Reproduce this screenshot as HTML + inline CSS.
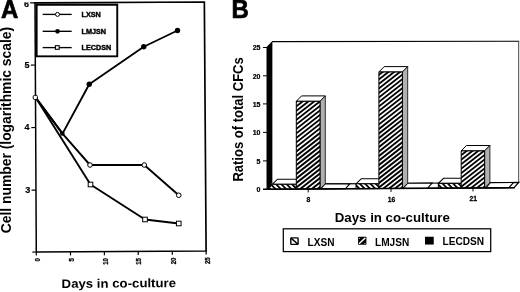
<!DOCTYPE html>
<html>
<head>
<meta charset="utf-8">
<title>Figure</title>
<style>
html,body{margin:0;padding:0;background:#fff;}
body{width:520px;height:292px;overflow:hidden;font-family:"Liberation Sans",sans-serif;}
svg{display:block;filter:grayscale(1) blur(0.35px);}
text{font-family:"Liberation Sans",sans-serif;font-weight:bold;fill:#000;}
</style>
</head>
<body>
<svg width="520" height="292" viewBox="0 0 520 292">

<rect x="0" y="0" width="520" height="292" fill="#fff"/>

<!-- ================= PANEL A ================= -->
<g id="panelA">
  <text transform="translate(0.9,17.8) scale(0.96,1)" font-size="25" stroke="#000" stroke-width="0.7" stroke-linejoin="round">A</text>
  <!-- frame -->
  <polyline points="35,2.8 204.35,2 206.1,251 36.3,252" fill="none" stroke="#000" stroke-width="1.7" stroke-linejoin="miter"/>
  <line x1="35" y1="2" x2="36.3" y2="252.8" stroke="#000" stroke-width="1.5"/>
  <!-- y ticks -->
  <g stroke="#000" stroke-width="1.2">
    <line x1="30.2" y1="2.9" x2="35" y2="2.8"/>
    <line x1="30.9" y1="65.1" x2="35.3" y2="65"/>
    <line x1="31.3" y1="127.6" x2="35.6" y2="127.5"/>
    <line x1="31.6" y1="190.2" x2="36" y2="190.1"/>
    <line x1="32.3" y1="252.1" x2="36.3" y2="252"/>
  </g>
  <clipPath id="c6"><rect x="20" y="2.2" width="12" height="10"/></clipPath>
  <g font-size="9" text-anchor="end" stroke="#000" stroke-width="0.2">
    <g clip-path="url(#c6)"><text transform="translate(28.9,6.7) scale(1,1.08)">6</text></g>
    <text transform="translate(29.4,67.7) scale(1,1.08)">5</text>
    <text transform="translate(29.5,130.1) scale(1,1.0)">4</text>
    <text transform="translate(30.3,193.4) scale(1,1.08)">3</text>
  </g>
  <!-- x ticks -->
  <g stroke="#000" stroke-width="1.2">
    <line x1="36.3" y1="252" x2="36.3" y2="255.6"/>
    <line x1="70.5" y1="251.8" x2="70.5" y2="255.4"/>
    <line x1="104.4" y1="251.6" x2="104.4" y2="255.2"/>
    <line x1="138.2" y1="251.4" x2="138.2" y2="255"/>
    <line x1="172.3" y1="251.2" x2="172.3" y2="254.8"/>
    <line x1="206.1" y1="251" x2="206.1" y2="254.6"/>
  </g>
  <g font-size="7.8" text-anchor="end" stroke="#000" stroke-width="0.3">
    <text transform="translate(39.7,258) scale(1,0.78) rotate(-90)">0</text>
    <text transform="translate(73.8,258) scale(1,0.78) rotate(-90)">5</text>
    <text transform="translate(108.0,258) scale(1,0.78) rotate(-90)">10</text>
    <text transform="translate(141.4,258) scale(1,0.78) rotate(-90)">15</text>
    <text transform="translate(175.5,257.6) scale(1,0.78) rotate(-90)">20</text>
    <text transform="translate(209.5,257.3) scale(1,0.78) rotate(-90)">25</text>
  </g>
  <!-- axis titles -->
  <text transform="translate(10.9,233.3) scale(1,0.964) rotate(-90)" font-size="14.4">Cell number (logarithmic scale)</text>
  <text transform="translate(61.6,287.9) rotate(-0.4) scale(1,0.93)" font-size="13.22">Days in co-culture</text>

  <!-- data lines -->
  <g fill="none" stroke="#000" stroke-width="1.9" stroke-linejoin="round" stroke-linecap="round">
    <polyline points="35.5,97.25 62.5,133.6 89.25,84.25 143.75,46.75 177.5,30.5"/>
    <polyline points="35.5,97.25 62.5,133.6 90,165 144.25,165 178.75,195.25"/>
    <polyline points="35.5,97.25 90.5,184.5 145,219.5 178.75,223.5"/>
  </g>
  <!-- markers -->
  <g fill="#000" stroke="none">
    <circle cx="62.3" cy="133.5" r="2.3"/>
    <circle cx="89.25" cy="84.25" r="2.7"/>
    <circle cx="143.75" cy="46.75" r="2.7"/>
    <circle cx="177.5" cy="30.5" r="2.7"/>
  </g>
  <g fill="#fff" stroke="#000" stroke-width="1">
    <circle cx="90" cy="165" r="2.3"/>
    <circle cx="144.25" cy="165" r="2.3"/>
    <circle cx="178.75" cy="195.25" r="2.3"/>
    <rect x="88.2" y="182.2" width="4.6" height="4.6"/>
    <rect x="142.7" y="217.2" width="4.6" height="4.6"/>
    <rect x="176.45" y="221.2" width="4.6" height="4.6"/>
    <rect x="33.2" y="95.3" width="4.2" height="4.2" rx="1.3"/>
  </g>

  <!-- legend -->
  <rect x="35.5" y="3.65" width="82.7" height="53.6" fill="#000"/>
  <rect x="37.6" y="5.75" width="78.7" height="49.65" fill="#fff"/>
  <g stroke="#000" stroke-width="1.35">
    <line x1="42.7" y1="14.4" x2="71.7" y2="14.4"/>
    <line x1="42.7" y1="31.3" x2="71.7" y2="31.3"/>
    <line x1="42.7" y1="47.6" x2="71.7" y2="47.6"/>
  </g>
  <circle cx="57.5" cy="14.4" r="2.0" fill="#fff" stroke="#000" stroke-width="1"/>
  <circle cx="57.5" cy="31.3" r="2.35" fill="#000"/>
  <rect x="55.4" y="45.7" width="3.8" height="3.6" fill="#fff" stroke="#000" stroke-width="1.1"/>
  <g font-size="7.25" stroke="#000" stroke-width="0.4">
    <text x="81.5" y="17.3">LXSN</text>
    <text x="81.5" y="34.0">LMJSN</text>
    <text x="81.5" y="50.3">LECDSN</text>
  </g>
</g>

<!-- ================= PANEL B ================= -->
<g id="panelB">
  <text transform="translate(231.5,17.6) scale(0.96,1)" font-size="25" stroke="#000" stroke-width="0.7" stroke-linejoin="round">B</text>
  <!-- back wall + floor -->
  <polygon points="272,41.6 518.7,41.2 518.7,182.45 272,184.3" fill="#fff" stroke="none"/>
  <line x1="272" y1="41.6" x2="519.2" y2="41.2" stroke="#000" stroke-width="1.1"/>
  <line x1="518.7" y1="41.2" x2="518.7" y2="182.45" stroke="#444" stroke-width="1"/>
  <polygon points="267,189.25 272,184.3 518.7,182.45 514.0,187.7" fill="#fff" stroke="#000" stroke-width="1.2"/>

  <polygon points="272.20,184.30 277.50,179.20 301.60,179.20 296.30,184.30" fill="#fff" stroke="#000" stroke-width="1.10" stroke-linejoin="miter"/>
<clipPath id="cx0"><polygon points="268.20,189.24 272.40,184.30 296.30,184.30 296.30,189.06"/></clipPath>
<polygon points="268.20,189.24 272.40,184.30 296.30,184.30 296.30,189.06" fill="#fff" stroke="none"/>
<g clip-path="url(#cx0)" stroke="#000" stroke-width="1.75"><line x1="284.11" y1="160.49" x2="308.53" y2="184.91"/><line x1="281.46" y1="163.14" x2="305.88" y2="187.56"/><line x1="278.81" y1="165.79" x2="303.23" y2="190.21"/><line x1="276.16" y1="168.45" x2="300.57" y2="192.86"/><line x1="273.51" y1="171.10" x2="297.92" y2="195.52"/><line x1="270.85" y1="173.75" x2="295.27" y2="198.17"/><line x1="268.20" y1="176.40" x2="292.62" y2="200.82"/><line x1="265.55" y1="179.05" x2="289.97" y2="203.47"/><line x1="262.90" y1="181.70" x2="287.32" y2="206.12"/><line x1="260.25" y1="184.36" x2="284.66" y2="208.77"/><line x1="257.60" y1="187.01" x2="282.01" y2="211.43"/></g>
<polygon points="268.20,189.24 272.40,184.30 296.30,184.30 296.30,189.06" fill="none" stroke="#000" stroke-width="1"/>
<polygon points="320.60,188.91 325.10,183.90 349.90,183.71 345.40,188.75" fill="#fff" stroke="#000" stroke-width="1.10" stroke-linejoin="miter"/>
<polygon points="296.30,101.30 301.60,95.90 325.30,95.90 320.00,101.30" fill="#fff" stroke="#000" stroke-width="1.00" stroke-linejoin="miter"/>
<polygon points="320.00,101.30 325.30,95.90 325.30,183.90 320.00,188.91" fill="#b0b0b0" stroke="#000" stroke-width="0.80" stroke-linejoin="miter"/>
<clipPath id="cm0"><polygon points="296.30,101.30 320.00,101.30 320.00,188.91 296.30,189.06"/></clipPath>
<polygon points="296.30,101.30 320.00,101.30 320.00,188.91 296.30,189.06" fill="#fff" stroke="none"/>
<g clip-path="url(#cm0)" stroke="#000" stroke-width="1.90"><line x1="240.10" y1="136.78" x2="316.46" y2="77.12"/><line x1="242.29" y1="139.58" x2="318.65" y2="79.92"/><line x1="244.47" y1="142.38" x2="320.84" y2="82.72"/><line x1="246.66" y1="145.18" x2="323.02" y2="85.51"/><line x1="248.84" y1="147.97" x2="325.21" y2="88.31"/><line x1="251.03" y1="150.77" x2="327.39" y2="91.11"/><line x1="253.21" y1="153.57" x2="329.58" y2="93.91"/><line x1="255.40" y1="156.37" x2="331.76" y2="96.70"/><line x1="257.59" y1="159.16" x2="333.95" y2="99.50"/><line x1="259.77" y1="161.96" x2="336.13" y2="102.30"/><line x1="261.96" y1="164.76" x2="338.32" y2="105.10"/><line x1="264.14" y1="167.56" x2="340.51" y2="107.89"/><line x1="266.33" y1="170.35" x2="342.69" y2="110.69"/><line x1="268.51" y1="173.15" x2="344.88" y2="113.49"/><line x1="270.70" y1="175.95" x2="347.06" y2="116.29"/><line x1="272.89" y1="178.75" x2="349.25" y2="119.08"/><line x1="275.07" y1="181.54" x2="351.43" y2="121.88"/><line x1="277.26" y1="184.34" x2="353.62" y2="124.68"/><line x1="279.44" y1="187.14" x2="355.81" y2="127.48"/><line x1="281.63" y1="189.94" x2="357.99" y2="130.27"/><line x1="283.81" y1="192.73" x2="360.18" y2="133.07"/><line x1="286.00" y1="195.53" x2="362.36" y2="135.87"/><line x1="288.18" y1="198.33" x2="364.55" y2="138.67"/><line x1="290.37" y1="201.12" x2="366.73" y2="141.46"/><line x1="292.56" y1="203.92" x2="368.92" y2="144.26"/><line x1="294.74" y1="206.72" x2="371.10" y2="147.06"/><line x1="296.93" y1="209.52" x2="373.29" y2="149.86"/><line x1="299.11" y1="212.31" x2="375.48" y2="152.65"/><line x1="301.30" y1="215.11" x2="377.66" y2="155.45"/></g>
<polygon points="296.30,101.30 320.00,101.30 320.00,188.91 296.30,189.06" fill="none" stroke="#000" stroke-width="1"/>
<polygon points="356.00,183.80 361.30,178.70 384.30,178.70 379.00,183.80" fill="#fff" stroke="#000" stroke-width="1.10" stroke-linejoin="miter"/>
<clipPath id="cx1"><polygon points="356.00,188.68 356.00,183.80 379.00,183.80 379.00,188.53"/></clipPath>
<polygon points="356.00,188.68 356.00,183.80 379.00,183.80 379.00,188.53" fill="#fff" stroke="none"/>
<g clip-path="url(#cx1)" stroke="#000" stroke-width="1.75"><line x1="367.71" y1="165.16" x2="388.58" y2="186.03"/><line x1="365.06" y1="167.81" x2="385.93" y2="188.68"/><line x1="362.41" y1="170.46" x2="383.28" y2="191.33"/><line x1="359.76" y1="173.11" x2="380.63" y2="193.98"/><line x1="357.11" y1="175.77" x2="377.97" y2="196.63"/><line x1="354.45" y1="178.42" x2="375.32" y2="199.29"/><line x1="351.80" y1="181.07" x2="372.67" y2="201.94"/><line x1="349.15" y1="183.72" x2="370.02" y2="204.59"/><line x1="346.50" y1="186.37" x2="367.37" y2="207.24"/></g>
<polygon points="356.00,188.68 356.00,183.80 379.00,183.80 379.00,188.53" fill="none" stroke="#000" stroke-width="1"/>
<polygon points="403.00,188.38 407.50,183.28 432.10,183.09 427.60,188.22" fill="#fff" stroke="#000" stroke-width="1.10" stroke-linejoin="miter"/>
<polygon points="378.90,72.00 384.20,66.60 407.70,66.60 402.40,72.00" fill="#fff" stroke="#000" stroke-width="1.00" stroke-linejoin="miter"/>
<polygon points="402.40,72.00 407.70,66.60 407.70,183.28 402.40,188.38" fill="#b0b0b0" stroke="#000" stroke-width="0.80" stroke-linejoin="miter"/>
<clipPath id="cm1"><polygon points="378.90,72.00 402.40,72.00 402.40,188.38 378.90,188.53"/></clipPath>
<polygon points="378.90,72.00 402.40,72.00 402.40,188.38 378.90,188.53" fill="#fff" stroke="none"/>
<g clip-path="url(#cm1)" stroke="#000" stroke-width="1.90"><line x1="301.39" y1="117.44" x2="399.80" y2="40.56"/><line x1="303.58" y1="120.24" x2="401.98" y2="43.35"/><line x1="305.76" y1="123.04" x2="404.17" y2="46.15"/><line x1="307.95" y1="125.83" x2="406.35" y2="48.95"/><line x1="310.13" y1="128.63" x2="408.54" y2="51.75"/><line x1="312.32" y1="131.43" x2="410.73" y2="54.54"/><line x1="314.50" y1="134.22" x2="412.91" y2="57.34"/><line x1="316.69" y1="137.02" x2="415.10" y2="60.14"/><line x1="318.88" y1="139.82" x2="417.28" y2="62.94"/><line x1="321.06" y1="142.62" x2="419.47" y2="65.73"/><line x1="323.25" y1="145.41" x2="421.65" y2="68.53"/><line x1="325.43" y1="148.21" x2="423.84" y2="71.33"/><line x1="327.62" y1="151.01" x2="426.03" y2="74.13"/><line x1="329.80" y1="153.81" x2="428.21" y2="76.92"/><line x1="331.99" y1="156.60" x2="430.40" y2="79.72"/><line x1="334.18" y1="159.40" x2="432.58" y2="82.52"/><line x1="336.36" y1="162.20" x2="434.77" y2="85.32"/><line x1="338.55" y1="165.00" x2="436.95" y2="88.11"/><line x1="340.73" y1="167.79" x2="439.14" y2="90.91"/><line x1="342.92" y1="170.59" x2="441.32" y2="93.71"/><line x1="345.10" y1="173.39" x2="443.51" y2="96.51"/><line x1="347.29" y1="176.19" x2="445.70" y2="99.30"/><line x1="349.47" y1="178.98" x2="447.88" y2="102.10"/><line x1="351.66" y1="181.78" x2="450.07" y2="104.90"/><line x1="353.85" y1="184.58" x2="452.25" y2="107.70"/><line x1="356.03" y1="187.38" x2="454.44" y2="110.49"/><line x1="358.22" y1="190.17" x2="456.62" y2="113.29"/><line x1="360.40" y1="192.97" x2="458.81" y2="116.09"/><line x1="362.59" y1="195.77" x2="460.99" y2="118.88"/><line x1="364.77" y1="198.57" x2="463.18" y2="121.68"/><line x1="366.96" y1="201.36" x2="465.37" y2="124.48"/><line x1="369.14" y1="204.16" x2="467.55" y2="127.28"/><line x1="371.33" y1="206.96" x2="469.74" y2="130.07"/><line x1="373.52" y1="209.76" x2="471.92" y2="132.87"/><line x1="375.70" y1="212.55" x2="474.11" y2="135.67"/><line x1="377.89" y1="215.35" x2="476.29" y2="138.47"/><line x1="380.07" y1="218.15" x2="478.48" y2="141.26"/></g>
<polygon points="378.90,72.00 402.40,72.00 402.40,188.38 378.90,188.53" fill="none" stroke="#000" stroke-width="1"/>
<polygon points="438.30,183.40 443.60,178.30 466.60,178.30 461.30,183.40" fill="#fff" stroke="#000" stroke-width="1.10" stroke-linejoin="miter"/>
<clipPath id="cx2"><polygon points="438.30,188.15 438.30,183.40 461.30,183.40 461.30,188.01"/></clipPath>
<polygon points="438.30,188.15 438.30,183.40 461.30,183.40 461.30,188.01" fill="#fff" stroke="none"/>
<g clip-path="url(#cx2)" stroke="#000" stroke-width="1.75"><line x1="450.10" y1="164.62" x2="470.95" y2="185.47"/><line x1="447.45" y1="167.27" x2="468.30" y2="188.12"/><line x1="444.80" y1="169.93" x2="465.65" y2="190.78"/><line x1="442.15" y1="172.58" x2="463.00" y2="193.43"/><line x1="439.50" y1="175.23" x2="460.35" y2="196.08"/><line x1="436.85" y1="177.88" x2="457.70" y2="198.73"/><line x1="434.19" y1="180.53" x2="455.04" y2="201.38"/><line x1="431.54" y1="183.18" x2="452.39" y2="204.03"/><line x1="428.89" y1="185.84" x2="449.74" y2="206.69"/></g>
<polygon points="438.30,188.15 438.30,183.40 461.30,183.40 461.30,188.01" fill="none" stroke="#000" stroke-width="1"/>
<polygon points="485.90,187.85 490.40,182.66 513.50,182.48 509.00,187.70" fill="#fff" stroke="#000" stroke-width="1.10" stroke-linejoin="miter"/>
<polygon points="461.20,150.90 466.50,145.50 489.90,145.50 484.60,150.90" fill="#fff" stroke="#000" stroke-width="1.00" stroke-linejoin="miter"/>
<polygon points="484.60,150.90 489.90,145.50 489.90,182.67 484.60,187.86" fill="#b0b0b0" stroke="#000" stroke-width="0.80" stroke-linejoin="miter"/>
<clipPath id="cm2"><polygon points="461.20,150.90 484.60,150.90 484.60,187.86 461.20,188.01"/></clipPath>
<polygon points="461.20,150.90 484.60,150.90 484.60,187.86 461.20,188.01" fill="#fff" stroke="none"/>
<g clip-path="url(#cm2)" stroke="#000" stroke-width="1.90"><line x1="437.54" y1="164.69" x2="476.83" y2="133.99"/><line x1="439.72" y1="167.49" x2="479.02" y2="136.78"/><line x1="441.91" y1="170.28" x2="481.20" y2="139.58"/><line x1="444.09" y1="173.08" x2="483.39" y2="142.38"/><line x1="446.28" y1="175.88" x2="485.58" y2="145.18"/><line x1="448.46" y1="178.68" x2="487.76" y2="147.97"/><line x1="450.65" y1="181.47" x2="489.95" y2="150.77"/><line x1="452.83" y1="184.27" x2="492.13" y2="153.57"/><line x1="455.02" y1="187.07" x2="494.32" y2="156.37"/><line x1="457.21" y1="189.87" x2="496.50" y2="159.16"/><line x1="459.39" y1="192.66" x2="498.69" y2="161.96"/><line x1="461.58" y1="195.46" x2="500.87" y2="164.76"/><line x1="463.76" y1="198.26" x2="503.06" y2="167.56"/><line x1="465.95" y1="201.06" x2="505.25" y2="170.35"/><line x1="468.13" y1="203.85" x2="507.43" y2="173.15"/><line x1="470.32" y1="206.65" x2="509.62" y2="175.95"/></g>
<polygon points="461.20,150.90 484.60,150.90 484.60,187.86 461.20,188.01" fill="none" stroke="#000" stroke-width="1"/>

  <!-- left black wall -->
  <polygon points="266.8,47 272.1,41.6 272.1,182.6 268.6,189 266.8,189.2" fill="#000" stroke="#000" stroke-width="0.5"/>
  <!-- baseline -->
  <line x1="263" y1="189.3" x2="514.6" y2="187.7" stroke="#000" stroke-width="1.5"/>

  <!-- y ticks -->
  <g stroke="#000" stroke-width="1">
    <line x1="263" y1="47.5" x2="267" y2="47.5"/>
    <line x1="263" y1="75.8" x2="267" y2="75.8"/>
    <line x1="263" y1="103.9" x2="267" y2="103.9"/>
    <line x1="263" y1="132.4" x2="267" y2="132.4"/>
    <line x1="263" y1="160.9" x2="267" y2="160.9"/>
  </g>
  <g font-size="7.5" text-anchor="end" transform="translate(260.4,0) scale(0.93,1)" stroke="#000" stroke-width="0.25">
    <text x="0" y="50.3">25</text>
    <text x="0" y="78.6">20</text>
    <text x="0" y="106.7">15</text>
    <text x="0" y="135.2">10</text>
    <text x="0" y="163.7">5</text>
    <text x="0" y="192.2">0</text>
  </g>
  <!-- x ticks -->
  <g stroke="#000" stroke-width="1">
    <line x1="308.2" y1="189.2" x2="308.2" y2="192.4"/>
    <line x1="391" y1="188.7" x2="391" y2="191.9"/>
    <line x1="473" y1="188.2" x2="473" y2="191.4"/>
  </g>
  <g font-size="7.4" text-anchor="middle" stroke="#000" stroke-width="0.25">
    <text transform="translate(308.4,202) scale(0.92,1)">8</text>
    <text transform="translate(391.5,201.7) scale(0.92,1)">16</text>
    <text transform="translate(473.2,201.4) scale(0.92,1)">21</text>
  </g>
  <!-- axis titles -->
  <text transform="translate(243.0,181.6) scale(1,0.937) rotate(-90)" font-size="13.9">Ratios of total CFCs</text>
  <text transform="translate(334.7,221.7) scale(1,0.96)" font-size="13.3">Days in co-culture</text>

  <!-- legend -->
  <rect x="283.3" y="228.8" width="207.4" height="22.8" fill="#fff" stroke="#000" stroke-width="1.25"/>
  <rect x="290.8" y="237.9" width="7.3" height="6.5" fill="#fff" stroke="#000" stroke-width="1.4" rx="0.6"/>
  <line x1="291" y1="238.1" x2="298" y2="244.3" stroke="#000" stroke-width="1.5"/>
  <rect x="358.1" y="236.85" width="8.3" height="7.85" fill="#000" rx="0.5"/>
  <line x1="359.6" y1="243.3" x2="364.9" y2="238.2" stroke="#fff" stroke-width="1.5" stroke-linecap="round"/>
  <circle cx="359.6" cy="238.3" r="0.55" fill="#fff"/>
  <circle cx="364.9" cy="243.3" r="0.55" fill="#fff"/>
  <rect x="425" y="236.75" width="8.75" height="7.8" fill="#000"/>
  <g font-size="10.1">
    <text x="307.5" y="245.7">LXSN</text>
    <text x="375" y="245.6">LMJSN</text>
    <text x="442.5" y="245.3">LECDSN</text>
  </g>
</g>
</svg>
</body>
</html>
